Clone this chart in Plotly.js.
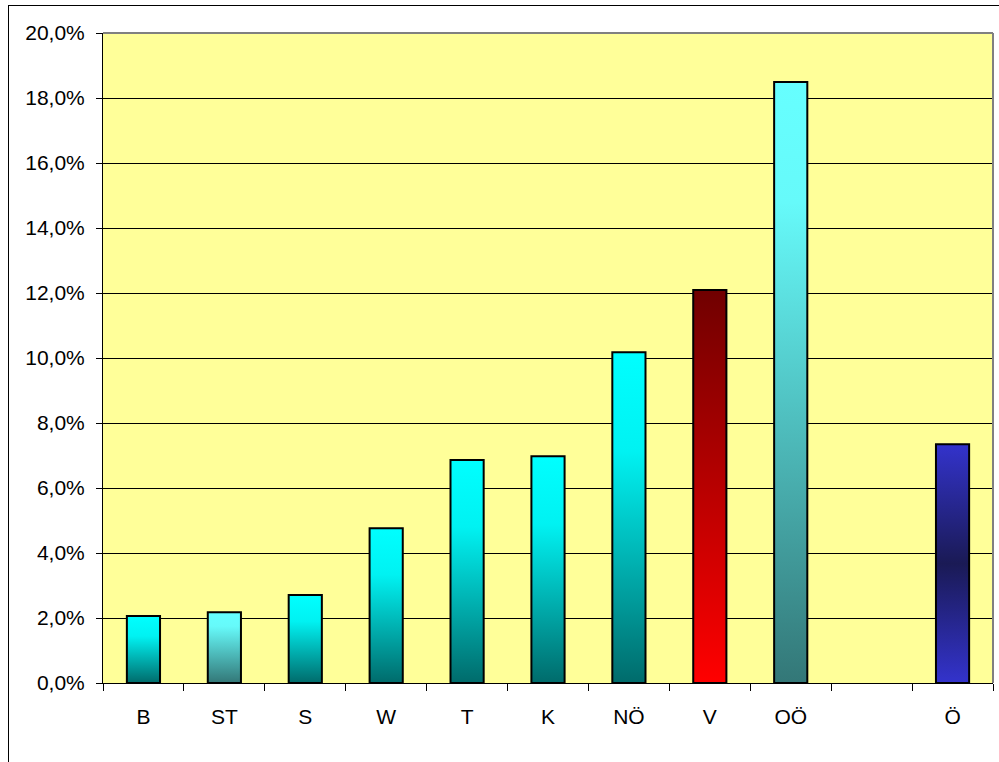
<!DOCTYPE html>
<html>
<head>
<meta charset="utf-8">
<script src="https://cdn.plot.ly/plotly-3.0.1.min.js"></script>
<style>
  html, body { margin: 0; padding: 0; background: #fff; }
  #wrap { position: relative; width: 999px; height: 762px; overflow: hidden; }
  #chart { position: absolute; left: 0; top: 0; width: 999px; height: 762px; }
  #frame { position: absolute; left: 8px; top: 5px; width: 1100px; height: 900px;
           border: 1px solid #000; pointer-events: none; }
</style>
</head>
<body>
<div id="wrap">
  <div id="chart"></div>
  <div id="frame"></div>
</div>
<script>
// Data
const categories = ["B", "ST", "S", "W", "T", "K", "NÖ", "V", "OÖ", " ", "Ö"];
const values = [0.0206, 0.0218, 0.0271, 0.0476, 0.0686, 0.0698, 0.1018, 0.1209, 0.1849, null, 0.0735];
const yTickValues = [0, 0.02, 0.04, 0.06, 0.08, 0.10, 0.12, 0.14, 0.16, 0.18, 0.20];

// Gradient styles per bar (top -> bottom colour stops)
const gradients = {
  cyan:  [[0, "#00FFFF"], [0.3, "#00F2F2"], [1, "#006B6B"]],
  pale:  [[0, "#66FFFF"], [0.2, "#66FAFA"], [1, "#337777"]],
  red:   [[0, "#700000"], [1, "#FF0000"]],
  blue:  [[0, "#3333CC"], [0.5, "#1A1A55"], [1, "#3333CC"]]
};
const barGradient = ["cyan", "pale", "cyan", "cyan", "cyan", "cyan", "cyan", "red", "pale", "cyan", "blue"];

const trace = {
  type: "bar",
  x: categories,
  y: values,
  marker: { color: "#00CCCC", line: { color: "#000000", width: 2 } },
  hoverinfo: "none"
};

const layout = {
  width: 999, height: 762,
  margin: { l: 103, r: 6, t: 33, b: 79 },
  paper_bgcolor: "rgba(0,0,0,0)",
  plot_bgcolor: "#FFFF99",
  separators: ",.",
  bargap: 0.59,
  showlegend: false,
  font: { family: "Liberation Sans, Arial, sans-serif", size: 21, color: "#000" },
  xaxis: {
    type: "category",
    showline: true, linecolor: "#000", linewidth: 1,
    ticks: "outside", ticklen: 7, tickcolor: "#000", tickwidth: 1,
    tickson: "boundaries",
    showgrid: false,
    ticklabelstandoff: 15,
    fixedrange: true
  },
  yaxis: {
    range: [0, 0.2],
    tickvals: yTickValues,
    tickformat: ".1%",
    showline: true, linecolor: "#000", linewidth: 1,
    ticks: "outside", ticklen: 6, tickcolor: "#000", tickwidth: 1,
    showgrid: true, gridcolor: "#000", gridwidth: 1,
    zeroline: false,
    ticklabelstandoff: 7,
    fixedrange: true
  },
  shapes: [
    { type: "line", xref: "paper", yref: "paper", x0: 0, x1: 1, y0: 1, y1: 1,
      line: { color: "#808080", width: 2 }, layer: "above" },
    { type: "line", xref: "paper", yref: "paper", x0: 1, x1: 1, y0: 0, y1: 1,
      line: { color: "#808080", width: 2 }, layer: "above" }
  ]
};

Plotly.newPlot("chart", [trace], layout, { displayModeBar: false, staticPlot: true }).then(function (gd) {
  const svg = gd.querySelector("svg.main-svg");
  const ns = "http://www.w3.org/2000/svg";
  let defs = svg.querySelector("defs");
  if (!defs) { defs = document.createElementNS(ns, "defs"); svg.insertBefore(defs, svg.firstChild); }
  Object.keys(gradients).forEach(function (name) {
    const lg = document.createElementNS(ns, "linearGradient");
    lg.setAttribute("id", "grad-" + name);
    lg.setAttribute("x1", "0"); lg.setAttribute("y1", "0");
    lg.setAttribute("x2", "0"); lg.setAttribute("y2", "1");
    gradients[name].forEach(function (st) {
      const s = document.createElementNS(ns, "stop");
      s.setAttribute("offset", st[0]);
      s.setAttribute("stop-color", st[1]);
      lg.appendChild(s);
    });
    defs.appendChild(lg);
  });
  const points = gd.querySelectorAll(".barlayer .point");
  points.forEach(function (pt, i) {
    const path = pt.querySelector("path") || pt;
    const g = barGradient[i] || "cyan";
    path.style.fill = "url(#grad-" + g + ")";
  });
});
</script>
</body>
</html>
